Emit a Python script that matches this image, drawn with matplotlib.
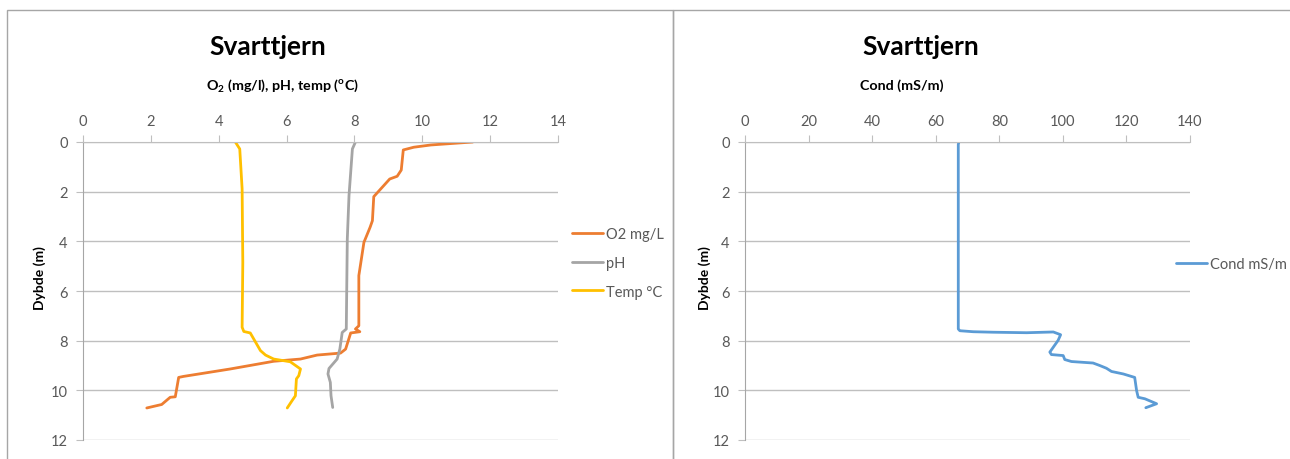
import matplotlib
matplotlib.use('Agg')
import matplotlib.pyplot as plt
from matplotlib.patches import Rectangle

plt.rcParams['font.family'] = ['Lato', 'DejaVu Sans']
plt.rcParams['mathtext.fontset'] = 'custom'
plt.rcParams['mathtext.rm'] = 'Lato'
plt.rcParams['mathtext.bf'] = 'Lato:bold'

# depth profiles, Svarttjern
o2_depth = [0.0, 0.12, 0.21, 0.32, 1.13, 1.38, 1.49, 2.2, 3.17, 3.44, 4.04, 5.38, 7.4, 7.53,
            7.64, 7.69, 8.34, 8.5, 8.58, 8.74, 8.83, 9.14, 9.44, 9.48, 10.26, 10.28, 10.57, 10.71]
o2_val = [11.49, 10.25, 9.75, 9.44, 9.38, 9.26, 9.04, 8.57, 8.53, 8.46, 8.28, 8.13, 8.13, 8.03,
          8.16, 7.89, 7.74, 7.59, 6.9, 6.41, 5.62, 4.34, 2.96, 2.82, 2.72, 2.57, 2.32, 1.88]

ph_depth = [0.0, 0.28, 2.16, 3.9, 7.53, 7.67, 8.34, 8.74, 9.12, 9.34, 9.68, 10.22, 10.69]
ph_val = [8.03, 7.94, 7.84, 7.79, 7.76, 7.64, 7.57, 7.49, 7.25, 7.22, 7.29, 7.31, 7.36]

temp_depth = [0.0, 0.28, 1.89, 4.85, 7.46, 7.63, 7.69, 8.4, 8.58, 8.74, 8.85, 9.14, 9.41,
              9.54, 10.22, 10.42, 10.71]
temp_val = [4.49, 4.62, 4.69, 4.71, 4.69, 4.74, 4.93, 5.23, 5.38, 5.62, 6.11, 6.41, 6.36,
            6.29, 6.26, 6.16, 6.02]

cond_depth = [0.0, 0.1, 7.53, 7.6, 7.64, 7.66, 7.68, 7.65, 7.76, 7.99, 8.46, 8.56, 8.6, 8.76,
              8.84, 8.9, 9.0, 9.11, 9.24, 9.34, 9.48, 10.01, 10.28, 10.34, 10.54, 10.7]
cond_val = [67.3, 67.1, 67.1, 67.6, 71.8, 78.1, 88.6, 97.0, 99.3, 98.5, 95.9, 96.4, 100.1, 100.6,
            102.7, 109.5, 111.6, 113.7, 115.3, 119.0, 122.6, 123.2, 123.7, 125.8, 129.5, 126.1]

W, H = 1290, 460
fig = plt.figure(figsize=(W / 100, H / 100), dpi=100)

# chart frames (bottom edge falls outside the picture)
fig.patches.append(Rectangle((7 / W, -10 / H), 666 / W, (449 + 10) / H, transform=fig.transFigure,
                             fill=False, edgecolor='#a6a6a6', linewidth=1))
fig.patches.append(Rectangle((673 / W, -10 / H), 630 / W, (449 + 10) / H, transform=fig.transFigure,
                             fill=False, edgecolor='#a6a6a6', linewidth=1))

tick_col = '#595959'
grid_col = '#bfbfbf'


def style_axis(ax, xmax, xstep):
    ax.set_xlim(0, xmax)
    ax.set_ylim(12, 0)
    ax.set_xticks(range(0, xmax + 1, xstep))
    ax.set_yticks(range(0, 13, 2))
    ax.xaxis.tick_top()
    ax.tick_params(axis='both', direction='out', length=5, color=grid_col,
                   labelsize=10.5, labelcolor=tick_col, pad=6)
    ax.tick_params(axis='x', pad=5)
    ax.grid(True, axis='y', color=grid_col, linewidth=1)
    ax.set_axisbelow(True)
    for s in ['right', 'bottom']:
        ax.spines[s].set_visible(False)
    ax.spines['top'].set_color(grid_col)
    ax.spines['left'].set_color('#a6a6a6')


y0 = 1 - 441 / H
h = 298 / H

# 1. O2, pH, temp
ax1 = fig.add_axes([83 / W, y0, 475 / W, h])
style_axis(ax1, 14, 2)
ax1.plot(o2_val, o2_depth, color='#ED7D31', lw=2, label='O2 mg/L', solid_capstyle='round')
ax1.plot(ph_val, ph_depth, color='#A5A5A5', lw=2, label='pH', solid_capstyle='round')
ax1.plot(temp_val, temp_depth, color='#FFC000', lw=2, label='Temp °C', solid_capstyle='round')
ax1.legend(loc='center left', bbox_to_anchor=(572 / W, 1 - 264 / H), bbox_transform=fig.transFigure,
           frameon=False, fontsize=10.5, labelcolor=tick_col, handlelength=2.1, handletextpad=0.2,
           labelspacing=1.0, borderpad=0, borderaxespad=0)

fig.text(268 / W, 1 - 47 / H, 'Svarttjern', fontsize=19, fontweight='bold', ha='center', va='center')
fig.text(206 / W, 1 - 86 / H, r'O$_\mathbf{2}$ (mg/l), pH, temp ($^\mathbf{o}$C)', fontsize=10.3,
         fontweight='bold', ha='left', va='center')
fig.text(40 / W, 1 - 278 / H, 'Dybde (m)', fontsize=10, fontweight='bold', rotation=90,
         ha='center', va='center')

# 2. Conductivity
ax2 = fig.add_axes([745 / W, y0, 445 / W, h])
style_axis(ax2, 140, 20)
ax2.plot(cond_val, cond_depth, color='#5B9BD5', lw=2, label='Cond mS/m', solid_capstyle='round')
ax2.legend(loc='center left', bbox_to_anchor=(1176 / W, 1 - 265 / H), bbox_transform=fig.transFigure,
           frameon=False, fontsize=10.5, labelcolor=tick_col, handlelength=2.1, handletextpad=0.2,
           borderpad=0, borderaxespad=0)

fig.text(921 / W, 1 - 47 / H, 'Svarttjern', fontsize=19, fontweight='bold', ha='center', va='center')
fig.text(860 / W, 1 - 86 / H, 'Cond (mS/m)', fontsize=10.3, fontweight='bold', ha='left', va='center')
fig.text(705 / W, 1 - 278 / H, 'Dybde (m)', fontsize=10, fontweight='bold', rotation=90,
         ha='center', va='center')

fig.savefig('out.png', dpi=100)
